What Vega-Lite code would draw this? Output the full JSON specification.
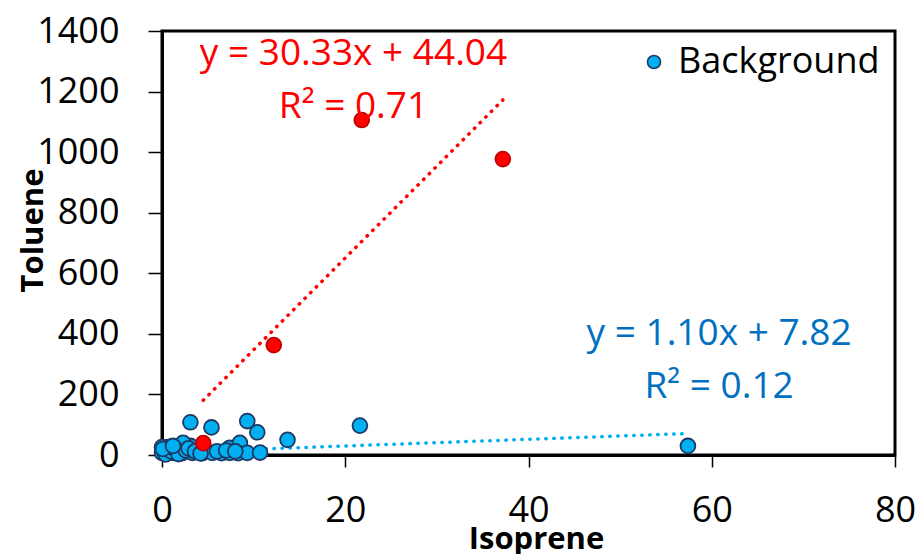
{
  "$schema": "https://vega.github.io/schema/vega-lite/v6.json",
  "width": 733,
  "height": 424,
  "autosize": {"type": "none"},
  "padding": {"left": 162, "top": 31, "right": 24, "bottom": 99},
  "background": "white",
  "config": {
    "font": "Open Sans",
    "view": {"stroke": "black", "strokeWidth": 3},
    "axis": {
      "grid": false,
      "domainColor": "black",
      "domainWidth": 3,
      "tickColor": "black",
      "tickWidth": 1.5,
      "labelFont": "Open Sans",
      "labelFontSize": 36,
      "labelColor": "black",
      "titleFont": "Open Sans",
      "titleFontSize": 31,
      "titleFontWeight": "bold",
      "titleColor": "black"
    }
  },
  "datasets": {
    "bg": [
      {"Isoprene": 3.1, "Toluene": 108},
      {"Isoprene": 5.4, "Toluene": 91},
      {"Isoprene": 9.3, "Toluene": 112},
      {"Isoprene": 10.4, "Toluene": 75},
      {"Isoprene": 13.7, "Toluene": 50},
      {"Isoprene": 21.6, "Toluene": 97},
      {"Isoprene": 57.4, "Toluene": 30},
      {"Isoprene": 0.0, "Toluene": 26},
      {"Isoprene": 0.7, "Toluene": 26},
      {"Isoprene": 1.6, "Toluene": 27},
      {"Isoprene": 2.3, "Toluene": 28},
      {"Isoprene": 3.1, "Toluene": 30},
      {"Isoprene": 7.4, "Toluene": 24},
      {"Isoprene": 8.5, "Toluene": 27},
      {"Isoprene": 2.3, "Toluene": 40},
      {"Isoprene": 8.5, "Toluene": 40},
      {"Isoprene": 0.0, "Toluene": 7},
      {"Isoprene": 0.5, "Toluene": 6},
      {"Isoprene": 1.2, "Toluene": 7},
      {"Isoprene": 2.2, "Toluene": 6},
      {"Isoprene": 3.3, "Toluene": 7},
      {"Isoprene": 4.4, "Toluene": 6},
      {"Isoprene": 5.5, "Toluene": 7},
      {"Isoprene": 6.5, "Toluene": 6},
      {"Isoprene": 7.4, "Toluene": 7},
      {"Isoprene": 8.3, "Toluene": 6},
      {"Isoprene": 9.3, "Toluene": 7},
      {"Isoprene": 10.7, "Toluene": 8},
      {"Isoprene": 0.2, "Toluene": 15},
      {"Isoprene": 0.4, "Toluene": 2},
      {"Isoprene": 0.8, "Toluene": 18},
      {"Isoprene": 1.0, "Toluene": 12},
      {"Isoprene": 1.4, "Toluene": 20},
      {"Isoprene": 1.8, "Toluene": 3},
      {"Isoprene": 2.6, "Toluene": 15},
      {"Isoprene": 2.9, "Toluene": 22},
      {"Isoprene": 3.6, "Toluene": 12},
      {"Isoprene": 4.2, "Toluene": 5},
      {"Isoprene": 0.1, "Toluene": 20},
      {"Isoprene": 1.2, "Toluene": 30},
      {"Isoprene": 6.0, "Toluene": 12},
      {"Isoprene": 7.0, "Toluene": 15},
      {"Isoprene": 8.0, "Toluene": 12}
    ],
    "ev": [
      {"Isoprene": 4.5, "Toluene": 39},
      {"Isoprene": 12.2, "Toluene": 363},
      {"Isoprene": 21.8, "Toluene": 1106},
      {"Isoprene": 37.2, "Toluene": 977}
    ],
    "redfit": [
      {"Isoprene": 4.5, "Toluene": 180.5},
      {"Isoprene": 37.2, "Toluene": 1172.3}
    ],
    "bluefit": [
      {"Isoprene": 0.0, "Toluene": 7.8},
      {"Isoprene": 57.4, "Toluene": 71.0}
    ],
    "redtext": [
      {"label": "y = 30.33x + 44.04", "Isoprene": 20.9, "Toluene": 1288},
      {"label": "R² = 0.71", "Isoprene": 20.9, "Toluene": 1113}
    ],
    "bluetext": [
      {"label": "y = 1.10x + 7.82", "Isoprene": 60.8, "Toluene": 363},
      {"label": "R² = 0.12", "Isoprene": 60.8, "Toluene": 188}
    ]
  },
  "encoding": {
    "x": {
      "field": "Isoprene",
      "type": "quantitative",
      "scale": {"domain": [0, 80], "nice": false, "zero": true},
      "axis": {
        "values": [0, 20, 40, 60, 80],
        "format": "d",
        "tickSize": 12,
        "labelPadding": 26,
        "labelFlush": false,
        "title": "Isoprene",
        "titleX": 374,
        "titleY": 93,
        "titleAlign": "center",
        "titleBaseline": "alphabetic",
        "titleAnchor": null
      }
    },
    "y": {
      "field": "Toluene",
      "type": "quantitative",
      "scale": {"domain": [0, 1400], "nice": false},
      "axis": {
        "values": [0, 200, 400, 600, 800, 1000, 1200, 1400],
        "format": "d",
        "tickSize": 14,
        "labelPadding": 29,
        "labelFlush": false,
        "title": "Toluene",
        "titleX": -120,
        "titleY": 199,
        "titleAngle": -90,
        "titleAlign": "center",
        "titleBaseline": "alphabetic",
        "titleAnchor": null
      }
    }
  },
  "layer": [
    {
      "data": {"name": "bluefit"},
      "mark": {"type": "line", "color": "#00B0F0", "strokeWidth": 3.5, "strokeCap": "round", "strokeDash": [0.5, 7.5]},
      "encoding": {}
    },
    {
      "data": {"name": "redfit"},
      "mark": {"type": "line", "color": "#FF0000", "strokeWidth": 3.5, "strokeCap": "round", "strokeDash": [0.5, 7.5]},
      "encoding": {}
    },
    {
      "data": {"name": "bg"},
      "mark": {"type": "point", "filled": true, "size": 220, "opacity": 1, "stroke": "#1F3864", "strokeWidth": 1.8},
      "encoding": {
        "color": {
          "datum": "Background",
          "scale": {"domain": ["Background"], "range": ["#00B0F0"]},
          "legend": {
            "title": null,
            "orient": "none",
            "legendX": 474,
            "legendY": 13,
            "padding": 0,
            "symbolType": "circle",
            "symbolSize": 170,
            "symbolStrokeColor": "#1F3864",
            "symbolStrokeWidth": 1.6,
            "symbolFillColor": "#00B0F0",
            "symbolOpacity": 1,
            "labelFont": "Open Sans",
            "labelFontSize": 36,
            "labelColor": "black",
            "labelOffset": 6,
            "labelLimit": 400
          }
        }
      }
    },
    {
      "data": {"name": "ev"},
      "mark": {"type": "point", "filled": true, "size": 220, "opacity": 1, "fill": "#FF0000", "stroke": "#C00000", "strokeWidth": 1.8}
    },
    {
      "data": {"name": "redtext"},
      "mark": {"type": "text", "font": "Open Sans", "fontSize": 37, "color": "#FF0000", "align": "center", "baseline": "alphabetic"},
      "encoding": {"text": {"field": "label"}}
    },
    {
      "data": {"name": "bluetext"},
      "mark": {"type": "text", "font": "Open Sans", "fontSize": 37, "color": "#0070C0", "align": "center", "baseline": "alphabetic"},
      "encoding": {"text": {"field": "label"}}
    }
  ]
}
